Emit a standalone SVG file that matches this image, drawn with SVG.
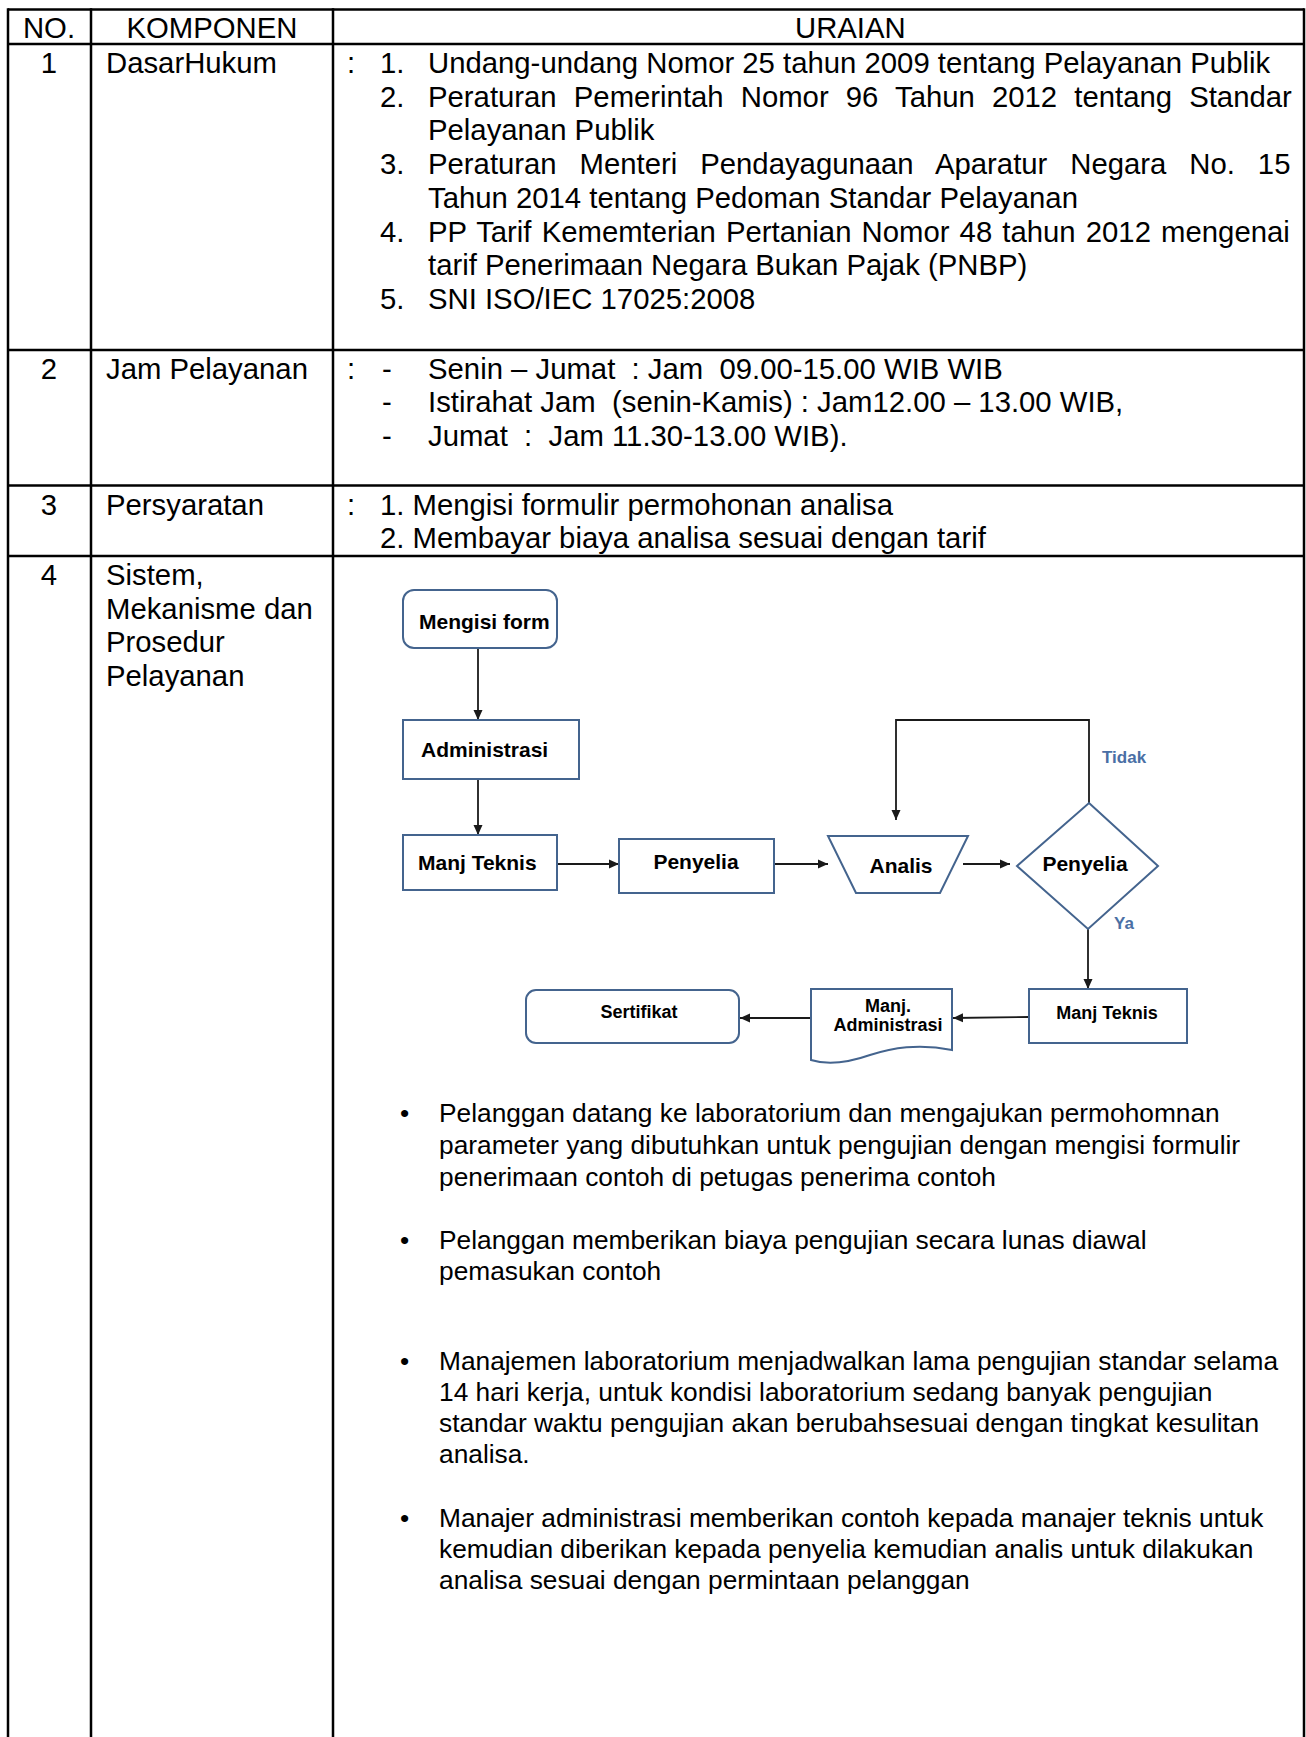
<svg xmlns="http://www.w3.org/2000/svg" width="1306" height="1737" viewBox="0 0 1306 1737">
<defs>
<style>
.t{font-family:"Liberation Sans",Arial,sans-serif;font-size:29.3px;fill:#000}
.b{font-family:"Liberation Sans",Arial,sans-serif;font-size:26.3px;fill:#000}
.fc{font-family:"Liberation Sans",Arial,sans-serif;font-weight:bold;font-size:21px;fill:#000}
.fs{font-family:"Liberation Sans",Arial,sans-serif;font-weight:bold;font-size:18px;fill:#000}
.lbl{font-family:"Liberation Sans",Arial,sans-serif;font-weight:bold;font-size:17px;fill:#4a6fa5}
.node{fill:#fff;stroke:#44648e;stroke-width:2}
.conn{stroke:#1a1a1a;stroke-width:1.8;fill:none;marker-end:url(#ah)}
.grid{stroke:#000;stroke-width:2.5;fill:none}
.mid{text-anchor:middle}
</style>
<marker id="ah" markerUnits="userSpaceOnUse" markerWidth="11" markerHeight="10" refX="10" refY="5" orient="auto">
<path d="M0,0.5 L10,5 L0,9.5 z" fill="#1a1a1a"/>
</marker>
</defs>
<rect width="1306" height="1737" fill="#fff"/>

<g id="table-grid">
<line class="grid" x1="8" y1="9.5" x2="1304" y2="9.5"/>
<line class="grid" x1="8" y1="44" x2="1304" y2="44"/>
<line class="grid" x1="8" y1="350" x2="1304" y2="350"/>
<line class="grid" x1="8" y1="485.5" x2="1304" y2="485.5"/>
<line class="grid" x1="8" y1="556" x2="1304" y2="556"/>
<line class="grid" x1="8" y1="8.3" x2="8" y2="1737"/>
<line class="grid" x1="91" y1="8.3" x2="91" y2="1737"/>
<line class="grid" x1="333" y1="8.3" x2="333" y2="1737"/>
<line class="grid" x1="1304" y1="8.3" x2="1304" y2="1737"/>
</g>

<g id="header">
<text class="t mid" x="49" y="38">NO.</text>
<text class="t mid" x="212" y="38">KOMPONEN</text>
<text class="t" x="795" y="38">URAIAN</text>
</g>

<g id="row1">
<text class="t mid" x="49" y="73">1</text>
<text class="t" x="106" y="73">DasarHukum</text>
<text class="t" x="347" y="73">:</text>
<text class="t" x="380" y="73">1.</text>
<text class="t" x="428" y="73">Undang-undang Nomor 25 tahun 2009 tentang Pelayanan Publik</text>
<text class="t" x="380" y="106.7">2.</text>
<text class="t" x="428" y="106.7" word-spacing="9">Peraturan Pemerintah Nomor 96 Tahun 2012 tentang Standar</text>
<text class="t" x="428" y="140.4">Pelayanan Publik</text>
<text class="t" x="380" y="174.1">3.</text>
<text class="t" x="428" y="174.1" word-spacing="14.8">Peraturan Menteri Pendayagunaan Aparatur Negara No. 15</text>
<text class="t" x="428" y="207.8">Tahun 2014 tentang Pedoman Standar Pelayanan</text>
<text class="t" x="380" y="241.5">4.</text>
<text class="t" x="428" y="241.5" word-spacing="2">PP Tarif Kememterian Pertanian Nomor 48 tahun 2012 mengenai</text>
<text class="t" x="428" y="275.2">tarif Penerimaan Negara Bukan Pajak (PNBP)</text>
<text class="t" x="380" y="308.9">5.</text>
<text class="t" x="428" y="308.9">SNI ISO/IEC 17025:2008</text>
</g>

<g id="row2">
<text class="t mid" x="49" y="378.5">2</text>
<text class="t" x="106" y="378.5">Jam Pelayanan</text>
<text class="t" x="347" y="378.5">:</text>
<text class="t" x="382" y="378.5">-</text>
<text class="t" x="428" y="378.5" xml:space="preserve">Senin – Jumat  : Jam  09.00-15.00 WIB WIB</text>
<text class="t" x="382" y="412">-</text>
<text class="t" x="428" y="412" xml:space="preserve">Istirahat Jam  (senin-Kamis) : Jam12.00 – 13.00 WIB,</text>
<text class="t" x="382" y="445.5">-</text>
<text class="t" x="428" y="445.5" xml:space="preserve">Jumat  :  Jam 11.30-13.00 WIB).</text>
</g>

<g id="row3">
<text class="t mid" x="49" y="514.5">3</text>
<text class="t" x="106" y="514.5">Persyaratan</text>
<text class="t" x="347" y="514.5">:</text>
<text class="t" x="380" y="514.5">1. Mengisi formulir permohonan analisa</text>
<text class="t" x="380" y="548">2. Membayar biaya analisa sesuai dengan tarif</text>
</g>

<g id="row4">
<text class="t mid" x="49" y="585">4</text>
<text class="t" x="106" y="585">Sistem,</text>
<text class="t" x="106" y="618.7">Mekanisme dan</text>
<text class="t" x="106" y="652.4">Prosedur</text>
<text class="t" x="106" y="686.1">Pelayanan</text>
</g>

<g id="connectors">
<line class="conn" x1="478" y1="648" x2="478" y2="720"/>
<line class="conn" x1="478" y1="779" x2="478" y2="835"/>
<line class="conn" x1="557" y1="864" x2="619" y2="864"/>
<line class="conn" x1="774" y1="864" x2="828" y2="864"/>
<line class="conn" x1="963" y1="864" x2="1010" y2="864"/>
<polyline class="conn" points="1089,803 1089,720 896,720 896,820"/>
<line class="conn" x1="1088" y1="929" x2="1088" y2="989"/>
<line class="conn" x1="1029" y1="1017" x2="953" y2="1018"/>
<line class="conn" x1="811" y1="1018" x2="740" y2="1018"/>
<text class="lbl" x="1102" y="763">Tidak</text>
<text class="lbl" x="1114" y="929">Ya</text>
</g>

<g id="node-mengisi-form">
<rect class="node" x="403" y="590" width="154" height="58" rx="11"/>
<text class="fc" x="419" y="629">Mengisi form</text>
</g>
<g id="node-administrasi">
<rect class="node" x="403" y="720" width="176" height="59"/>
<text class="fc" x="421" y="757">Administrasi</text>
</g>
<g id="node-manj-teknis-1">
<rect class="node" x="403" y="835" width="154" height="55"/>
<text class="fc" x="418" y="870">Manj Teknis</text>
</g>
<g id="node-penyelia-1">
<rect class="node" x="619" y="839" width="155" height="54"/>
<text class="fc mid" x="696" y="869">Penyelia</text>
</g>
<g id="node-analis">
<polygon class="node" points="828,836 968,836 940,893 856,893"/>
<text class="fc mid" x="901" y="873">Analis</text>
</g>
<g id="node-penyelia-decision">
<polygon class="node" points="1089,803 1158,866 1088,929 1017,866"/>
<text class="fc mid" x="1085" y="871">Penyelia</text>
</g>
<g id="node-manj-teknis-2">
<rect class="node" x="1029" y="989" width="158" height="54"/>
<text class="fs mid" x="1107" y="1019">Manj Teknis</text>
</g>
<g id="node-manj-administrasi">
<path class="node" d="M811,989 L952,989 L952,1050 C918,1043 892,1048 870,1055 C850,1062 830,1066 811,1060 Z"/>
<text class="fs mid" x="888" y="1012">Manj.</text>
<text class="fs mid" x="888" y="1031">Administrasi</text>
</g>
<g id="node-sertifikat">
<rect class="node" x="526" y="990" width="213" height="53" rx="10"/>
<text class="fs mid" x="639" y="1018">Sertifikat</text>
</g>

<g id="bullets">
<text class="b" x="400" y="1122">•</text>
<text class="b" x="439" y="1122">Pelanggan datang ke laboratorium dan mengajukan permohomnan</text>
<text class="b" x="439" y="1154">parameter yang dibutuhkan untuk pengujian dengan mengisi formulir</text>
<text class="b" x="439" y="1186">penerimaan contoh di petugas penerima contoh</text>
<text class="b" x="400" y="1249">•</text>
<text class="b" x="439" y="1249">Pelanggan memberikan biaya pengujian secara lunas diawal</text>
<text class="b" x="439" y="1280">pemasukan contoh</text>
<text class="b" x="400" y="1370">•</text>
<text class="b" x="439" y="1370">Manajemen laboratorium menjadwalkan lama pengujian standar selama</text>
<text class="b" x="439" y="1401">14 hari kerja, untuk kondisi laboratorium sedang banyak pengujian</text>
<text class="b" x="439" y="1432">standar waktu pengujian akan berubahsesuai dengan tingkat kesulitan</text>
<text class="b" x="439" y="1463">analisa.</text>
<text class="b" x="400" y="1527">•</text>
<text class="b" x="439" y="1527">Manajer administrasi memberikan contoh kepada manajer teknis untuk</text>
<text class="b" x="439" y="1558">kemudian diberikan kepada penyelia kemudian analis untuk dilakukan</text>
<text class="b" x="439" y="1589">analisa sesuai dengan permintaan pelanggan</text>
</g>
</svg>
